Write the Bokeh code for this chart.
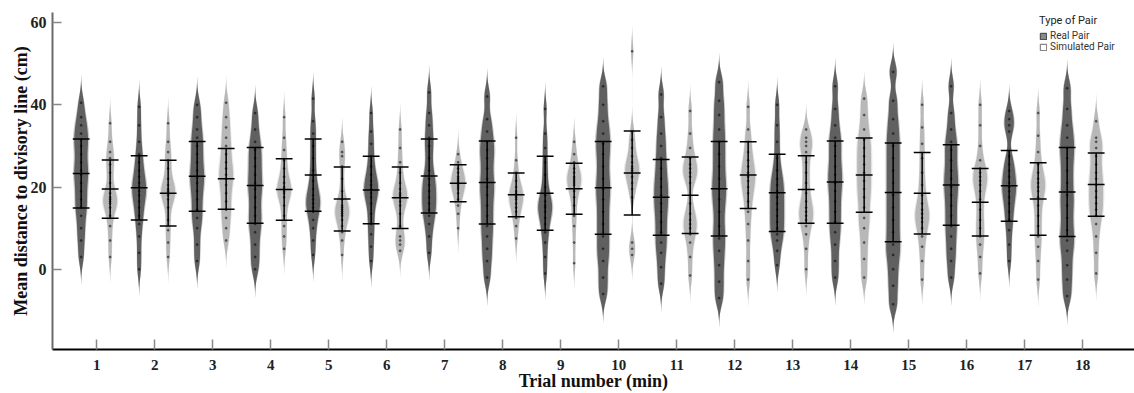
import numpy as np
from bokeh.plotting import figure
from bokeh.models import (FixedTicker, Legend, LegendItem, Range1d)
from bokeh.embed import file_html
from bokeh.resources import INLINE

# ---------------- data ----------------
trials = list(range(1, 19))
y_ticks = [0, 20, 40, 60]

real_mean = [23.3, 19.8, 22.6, 20.4, 22.9, 19.3, 22.7, 21.1, 18.5,
             19.8, 17.5, 19.6, 18.6, 21.2, 18.7, 20.5, 20.3, 18.8]
real_sd = [8.4, 7.8, 8.5, 9.2, 8.8, 8.2, 9.0, 10.1, 9.0,
           11.3, 9.2, 11.5, 9.4, 10.0, 12.0, 9.8, 8.6, 10.8]
sim_mean = [19.5, 18.5, 22.0, 19.4, 17.1, 17.4, 20.9, 18.1, 19.6,
            23.4, 18.0, 22.9, 19.4, 22.9, 18.5, 16.3, 17.1, 20.6]
sim_sd = [7.1, 8.0, 7.4, 7.5, 7.8, 7.5, 4.5, 5.3, 6.2,
          10.2, 9.3, 8.1, 8.2, 9.0, 9.9, 8.2, 8.8, 7.7]

real_points = [
    [3, 7, 10, 13, 15, 17, 19, 21, 23, 24, 26, 28, 30, 31.5, 33, 35, 37, 40.5],
    [0, 4, 8, 11, 13, 15, 16.5, 18, 19, 20, 21, 22.5, 24, 26, 28, 31, 35, 39.5],
    [2, 6, 10, 12.5, 14.5, 17, 19, 21, 22.5, 24, 26, 28, 30, 32, 34, 37, 40],
    [0, 3, 6, 9, 11, 13, 15, 17.5, 19.5, 21, 23, 25, 27, 29, 31, 34, 38],
    [3.5, 7, 10, 12, 14, 15, 16, 17, 18, 19.5, 21.5, 24, 27, 30, 33, 36, 41.5],
    [2, 5.5, 8.5, 11, 13.5, 16, 17.5, 18.5, 19.5, 20.5, 21.5, 23, 25, 27.5, 30.5, 33.5, 38],
    [4, 8, 11, 13, 14.5, 16, 17.5, 19, 20.5, 22, 24, 27, 30, 32, 35, 38, 43],
    [-2, 2, 5, 8, 10.5, 13, 15.5, 18, 20, 22, 24.5, 27, 29, 31, 33.5, 36.5, 42],
    [-1, 3, 6.5, 9, 11, 12.5, 14, 15, 15.5, 16.5, 18, 20, 23, 26, 29.5, 33, 39],
    [-6, -2, 2, 5, 8, 11, 14, 17, 19.5, 22, 25, 28, 30.5, 33, 36, 40, 44.5],
    [-3.5, 0.5, 4, 6.5, 9, 11.5, 14, 16, 18, 20, 22, 24.5, 27, 30, 33, 37, 42.5],
    [-7, -3, 1, 4.5, 7.5, 10.5, 14, 17, 19.5, 22, 25, 28, 31, 34, 37.5, 41, 45.5],
    [1, 4.5, 7, 8.5, 10, 11.5, 13, 14.5, 16, 17.5, 19, 20.5, 22, 24, 27, 31, 35, 40],
    [-2, 2, 6, 9, 11.5, 14, 16.5, 19, 21, 23, 25, 27.5, 30, 32, 35, 39, 44.5],
    [-8.5, -4, 0, 3.5, 6, 9, 12, 15, 18, 21, 24, 27, 30, 33, 36.5, 41, 48],
    [-2, 2, 5, 8, 10.5, 13, 15.5, 18, 20, 22, 24, 26.5, 29, 31, 34, 38, 44.5],
    [2, 6, 9.5, 12, 14, 16, 17.5, 19, 20, 21, 22.5, 24, 25.5, 27.5, 33.5, 35, 36.5, 38.5],
    [-6.5, -2.5, 1, 4.5, 7, 9.5, 12.5, 15.5, 18, 21, 24, 27, 29.5, 32, 35, 39, 44],
]

sim_points = [
    [3, 7, 10.5, 13, 15, 16, 16.5, 17, 17.5, 18.5, 21, 23.5, 25.5, 27, 28.5, 31, 35.5],
    [3, 6.5, 9.5, 12, 15, 17, 18, 18.5, 19, 19.5, 20.5, 22, 24.5, 26.5, 28.5, 31, 35.5],
    [7, 10, 12.5, 14.5, 16.5, 18.5, 20.5, 22, 23, 24.5, 26, 28, 30, 32, 34.5, 37, 40.5],
    [5, 8, 10.5, 13, 15.5, 17.5, 18.5, 19, 19.5, 20, 21, 22.5, 24.5, 26.5, 29, 32, 37],
    [3.5, 7, 9, 10.5, 12, 13, 13.5, 14, 14.5, 15, 15.5, 17, 19, 22, 25, 27.5, 28.5, 31],
    [4.5, 6, 7, 8, 10.5, 13.5, 15.5, 16.5, 17.5, 18, 18.5, 19.5, 21, 23.5, 26, 29.5, 34],
    [10, 13.5, 15.5, 17, 18.5, 19.5, 20, 20.5, 21, 21.5, 22, 22.5, 23.5, 24.5, 26, 28],
    [7.5, 10.5, 12.5, 14, 15, 16, 17, 17.5, 18, 18.5, 19, 20, 21.5, 23.5, 26.5, 32],
    [1.5, 6.5, 10.5, 13, 15.5, 17.5, 19, 20.5, 21, 21.5, 22, 22.5, 23.5, 24.5, 26, 28, 31],
    [3.5, 5, 6.5, 17.5, 19.5, 21, 22.5, 23.5, 24, 24.5, 25, 26, 27.5, 29.5, 31.5, 33.5, 53],
    [-1.5, 3, 6.5, 8.5, 10, 11, 12, 13.5, 16, 21, 22.5, 23.5, 24.5, 25.5, 27, 29.5, 33, 38.5],
    [-2.5, 2, 7, 11, 14, 16.5, 18.5, 20, 21.5, 22.5, 23.5, 25, 26.5, 28.5, 31, 34, 39.5],
    [0, 5, 8.5, 10.5, 12, 13, 14, 15, 16.5, 18.5, 21, 23.5, 26, 28.5, 30, 31, 32, 34],
    [-2, 2.5, 6.5, 10, 12.5, 15, 17.5, 19.5, 21.5, 23.5, 25.5, 27.5, 29.5, 31.5, 34, 37.5, 41.5],
    [-2.5, 2, 5.5, 8, 10, 11.5, 12.5, 13.5, 14.5, 16, 18, 20.5, 23.5, 27, 30.5, 34.5, 40],
    [-1, 3, 6, 8, 10, 12, 14.5, 17, 19, 20.5, 21.5, 22.5, 23.5, 24.5, 26.5, 30, 35, 40],
    [-2.5, 2, 5.5, 8, 10.5, 13, 15.5, 17.5, 19, 20, 21, 22, 23.5, 25.5, 28.5, 32.5, 38],
    [-1, 4, 8, 11, 13, 14.5, 16, 17.5, 19, 20.5, 22, 23.5, 25.5, 27.5, 29.5, 31, 32, 36],
]

# ---------------- layout / style constants ----------------
REAL_OFF, SIM_OFF = -0.27, 0.23
HALF_W = 0.12
BAR_HW = 0.145
BW = 2.3
DARK, LIGHT = "#575757", "#b4b4b4"
SERIF = "Liberation Serif"
NAN = float("nan")


def outline(center, pts, half_w, bw=BW):
    pts = np.asarray(pts, float)
    grid = np.linspace(pts.min() - 4 * bw, pts.max() + 4 * bw, 400)
    dens = np.exp(-0.5 * ((grid[:, None] - pts[None, :]) / bw) ** 2).sum(axis=1)
    dens = dens / dens.max()
    keep = dens > 0.004
    g, d = grid[keep], dens[keep] * half_w
    xs = np.concatenate([center - d, (center + d)[::-1]])
    ys = np.concatenate([g, g[::-1]])
    return list(xs), list(ys)


p = figure(width=1134, height=393, output_backend="svg", toolbar_location=None,
           x_range=Range1d(0.236, 18.891), y_range=Range1d(-19.5, 62.44),
           min_border_left=52, min_border_right=0, min_border_top=12, min_border_bottom=0)
p.outline_line_color = None
p.xgrid.grid_line_color = None
p.ygrid.grid_line_color = None


def add_group(means, sds, points, off, color):
    centers = [t + off for t in trials]
    for scale, alpha in ((1.18, 0.3), (1.0, 0.93)):
        xs, ys = [], []
        for c, pts in zip(centers, points):
            a, b = outline(c, pts, HALF_W * scale)
            xs.append(a)
            ys.append(b)
        p.patches(xs, ys, fill_color=color, fill_alpha=alpha, line_color=None)
    dx, dy = [], []
    for c, pts in zip(centers, points):
        dx += [c] * len(pts)
        dy += list(pts)
    p.scatter(dx, dy, size=2.0, color="black", alpha=0.4)
    m = np.array(means)
    s = np.array(sds)
    c = np.array(centers)
    p.segment(x0=c, y0=m - s, x1=c, y1=m + s, line_color="black", line_width=1.5)
    for lvl in (m - s, m, m + s):
        p.segment(x0=c - BAR_HW, y0=lvl, x1=c + BAR_HW, y1=lvl,
                  line_color="black", line_width=1.5)


add_group(real_mean, real_sd, real_points, REAL_OFF, DARK)
add_group(sim_mean, sim_sd, sim_points, SIM_OFF, LIGHT)

# axes
xa = p.xaxis[0]
xa.ticker = FixedTicker(ticks=trials)
xa.axis_label = "Trial number (min)"
xa.axis_line_color = "black"
xa.axis_line_width = 2
xa.major_tick_in = 10
xa.major_tick_out = 0
xa.major_tick_line_color = "#888888"
xa.major_tick_line_width = 1.5
xa.minor_tick_line_color = None
xa.major_label_text_font = SERIF
xa.major_label_text_font_style = "bold"
xa.major_label_text_font_size = "15px"
xa.major_label_text_color = "#222222"
xa.major_label_standoff = 10
xa.axis_label_text_font = SERIF
xa.axis_label_text_font_style = "bold"
xa.axis_label_text_font_size = "18px"
xa.axis_label_text_color = "#111111"
xa.axis_label_standoff = -2

ya = p.yaxis[0]
ya.ticker = FixedTicker(ticks=y_ticks)
ya.axis_label = "Mean distance to divisory line (cm)"
ya.axis_line_color = "#6a6a6a"
ya.axis_line_width = 2
ya.major_tick_in = 9
ya.major_tick_out = 0
ya.major_tick_line_color = "#888888"
ya.major_tick_line_width = 1.5
ya.minor_tick_line_color = None
ya.major_label_text_font = SERIF
ya.major_label_text_font_style = "bold"
ya.major_label_text_font_size = "16px"
ya.major_label_text_color = "#222222"
ya.major_label_standoff = 6
ya.axis_label_text_font = SERIF
ya.axis_label_text_font_style = "bold"
ya.axis_label_text_font_size = "18px"
ya.axis_label_text_color = "#111111"
ya.axis_label_standoff = -3

# legend (swatch-only renderers with no visible data)
r_real = p.quad(left=[NAN], right=[NAN], top=[NAN], bottom=[NAN],
                fill_color="#8a8a8a", line_color="#3c3c3c", line_width=1)
r_sim = p.quad(left=[NAN], right=[NAN], top=[NAN], bottom=[NAN],
               fill_color="white", line_color="#6a6a6a", line_width=1)
legend = Legend(items=[LegendItem(label="Real Pair", renderers=[r_real]),
                       LegendItem(label="Simulated Pair", renderers=[r_sim])],
                title="Type of Pair", location=(987, 297))
legend.background_fill_alpha = 0
legend.border_line_color = None
legend.label_text_font = "Roboto"
legend.label_text_font_size = "10px"
legend.label_text_color = "#333333"
legend.label_height = 9
legend.glyph_width = 8
legend.glyph_height = 8
legend.spacing = 0
legend.padding = 2
legend.margin = 0
legend.label_standoff = 3
legend.title_text_font = "Roboto"
legend.title_text_font_size = "11px"
legend.title_text_font_style = "normal"
legend.title_text_color = "#222222"
legend.title_standoff = 3
p.add_layout(legend)

open("out.html", "w").write(file_html(p, INLINE))
